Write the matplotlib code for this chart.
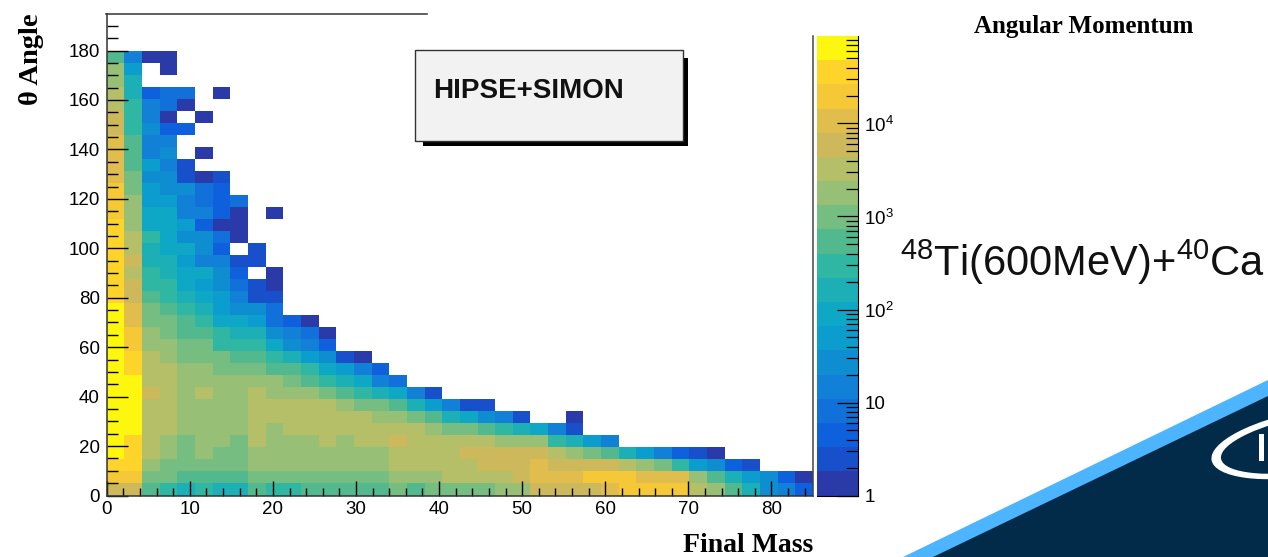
import numpy as np
import matplotlib
matplotlib.use('Agg')
import matplotlib.pyplot as plt
from matplotlib.colors import ListedColormap, LogNorm
from matplotlib.patches import Rectangle, Polygon, Ellipse
from matplotlib.ticker import LogLocator, MultipleLocator, NullFormatter

plt.rcParams['font.family'] = ['Liberation Sans', 'DejaVu Sans']
plt.rcParams['mathtext.default'] = 'regular'

W, H = 1268, 557

# colour band of each cell, 0 = empty
# first row is the lowest angle bin, each row starts at mass 0
band_rows = [
    [15, 15, 11, 10, 9, 10, 9, 9, 11, 10, 10, 11, 11, 11, 11, 11, 12, 11, 12, 12, 12, 12, 13, 13, 15, 15, 15, 15, 16, 17, 17, 17, 17, 14, 13, 11, 9, 6, 5, 3],
    [17, 17, 12, 12, 11, 11, 11, 11, 12, 12, 12, 12, 12, 12, 12, 12, 13, 13, 13, 14, 14, 14, 14, 15, 16, 16, 16, 17, 17, 17, 16, 16, 16, 13, 11, 9, 7, 6, 3, 1],
    [18, 18, 13, 12, 12, 12, 12, 12, 13, 13, 13, 13, 13, 13, 13, 13, 14, 14, 14, 14, 14, 15, 15, 15, 16, 15, 15, 15, 15, 14, 13, 12, 10, 7, 6, 3, 2],
    [19, 18, 14, 13, 12, 13, 12, 12, 13, 13, 13, 13, 13, 13, 13, 13, 14, 14, 14, 14, 15, 15, 15, 15, 15, 14, 13, 12, 11, 9, 7, 5, 3, 2, 1],
    [19, 18, 14, 13, 12, 13, 13, 12, 14, 13, 13, 13, 14, 13, 14, 14, 15, 14, 14, 14, 14, 14, 13, 13, 13, 10, 9, 7, 5],
    [19, 19, 14, 14, 13, 13, 13, 13, 14, 13, 14, 14, 14, 14, 14, 14, 14, 14, 13, 12, 12, 11, 10, 9, 8, 5, 2],
    [19, 19, 14, 14, 13, 13, 13, 13, 14, 14, 14, 14, 14, 14, 14, 13, 13, 12, 11, 9, 8, 6, 5, 2, 0, 0, 1],
    [19, 19, 14, 14, 13, 13, 13, 13, 14, 14, 14, 14, 14, 13, 12, 12, 11, 9, 7, 5, 2, 2],
    [19, 19, 15, 14, 13, 14, 13, 13, 14, 13, 13, 13, 12, 11, 10, 9, 8, 5, 2],
    [19, 19, 14, 14, 13, 13, 13, 13, 13, 13, 12, 11, 10, 9, 8, 5, 4],
    [19, 18, 14, 14, 13, 13, 12, 12, 12, 11, 11, 10, 8, 7, 5, 3],
    [19, 18, 14, 13, 12, 12, 12, 11, 11, 10, 9, 7, 6, 2, 1],
    [19, 17, 13, 13, 12, 12, 10, 10, 10, 8, 6, 5, 3],
    [19, 17, 13, 12, 11, 11, 10, 9, 9, 6, 5, 4, 1],
    [19, 16, 12, 12, 11, 10, 8, 8, 7, 4, 3, 1],
    [19, 16, 12, 11, 10, 9, 7, 6, 6, 4],
    [18, 15, 11, 10, 9, 8, 7, 5, 2, 2],
    [18, 15, 10, 10, 8, 7, 6, 4, 2, 1],
    [18, 14, 10, 9, 8, 8, 6, 3, 0, 1],
    [18, 15, 9, 9, 7, 5, 5, 2, 2],
    [18, 14, 9, 8, 8, 6, 3, 0, 2],
    [18, 14, 10, 8, 6, 6, 4, 1],
    [18, 13, 8, 8, 7, 3, 1, 1],
    [17, 13, 8, 8, 5, 5, 3, 1, 0, 1],
    [17, 13, 7, 7, 5, 4, 3, 4],
    [17, 12, 7, 6, 6, 4, 3],
    [16, 12, 6, 6, 2, 1, 2],
    [16, 11, 7, 5, 2],
    [16, 11, 5, 6, 0, 1],
    [16, 11, 5, 5],
    [15, 10, 6, 3, 3],
    [15, 10, 5, 1, 0, 1],
    [14, 10, 5, 4, 1],
    [14, 9, 3, 4, 4, 0, 1],
    [13, 9],
    [13, 7, 0, 1],
    [11, 5, 1, 1],
]

band_colors = ['#2a3aa8', '#1850cc', '#0f60dc', '#1270da', '#1280d6', '#0e8ed0',
               '#0a9dce', '#0ea8c6', '#1cb0b6', '#2fb7a4', '#52b98e', '#75bd80',
               '#97c076', '#b4bf68', '#cdb95c', '#e0bd4c', '#f5c838', '#fed42a',
               '#fdf60f']

x_ticks = [0, 10, 20, 30, 40, 50, 60, 70, 80]
y_ticks = [0, 20, 40, 60, 80, 100, 120, 140, 160, 180]
cbar_ticks = [1, 10, 100, 1000, 10000]
cbar_labels = ['1', '10', '$10^2$', '$10^3$', '$10^4$']

n_x = 40
n_y = len(band_rows)
x_edges = np.linspace(0, 85, n_x + 1)
y_edges = np.linspace(0, 180, n_y + 1)

bands = np.zeros((n_y, n_x))
for i, row in enumerate(band_rows):
    bands[i, :len(row)] = row

# bands are equal steps in log10(counts)
vmax = 10 ** (459.5 / 93)
step = np.log10(vmax) / len(band_colors)
counts = np.ma.masked_where(bands == 0, 10 ** ((bands - 0.5) * step))

fig = plt.figure(figsize=(W / 100, H / 100), dpi=100)


def box(x0, y0, x1, y1):
    return [x0 / W, 1 - y1 / H, (x1 - x0) / W, (y1 - y0) / H]


ax = fig.add_axes(box(106.7, 14, 813, 495.5))
cmap = ListedColormap(band_colors)
norm = LogNorm(vmin=1, vmax=vmax)
mesh = ax.pcolormesh(x_edges, y_edges, counts, cmap=cmap, norm=norm)

ax.set_xlim(0, 85)
ax.set_ylim(0, 481.5 / 2.472)
ax.set_xticks(x_ticks)
ax.set_yticks(y_ticks)
ax.xaxis.set_minor_locator(MultipleLocator(2))
ax.yaxis.set_minor_locator(MultipleLocator(5))
ax.tick_params(axis='x', which='major', direction='in', length=11, width=1, labelsize=13.5, pad=4)
ax.tick_params(axis='x', which='minor', direction='in', length=6, width=1)
ax.tick_params(axis='y', which='major', direction='in', length=15, width=1, labelsize=13.5, pad=5)
ax.tick_params(axis='y', which='minor', direction='in', length=8, width=1)
ax.spines['right'].set_visible(False)
ax.spines['top'].set_visible(False)
for side in ['left', 'bottom']:
    ax.spines[side].set_linewidth(1.1)
    ax.spines[side].set_color('#333333')

cax = fig.add_axes(box(816.5, 36, 857.5, 495.5))
cb = fig.colorbar(mesh, cax=cax)
cb.outline.set_visible(False)
cb.set_ticks(cbar_ticks, labels=cbar_labels)
cax.yaxis.set_minor_locator(LogLocator(base=10, subs=range(2, 10), numticks=12))
cax.yaxis.set_minor_formatter(NullFormatter())
cax.tick_params(which='major', direction='in', length=15, width=0.9, labelsize=13.5, pad=5)
cax.tick_params(which='minor', direction='in', length=8.5, width=0.9)
cax.spines['right'].set_visible(True)
cax.spines['bottom'].set_visible(True)

# everything around the plot is placed in pixels of the slide
over = fig.add_axes([0, 0, 1, 1], zorder=5)
over.set_xlim(0, W)
over.set_ylim(H, 0)
over.axis('off')

over.plot([106, 427], [14, 14], color='#333333', lw=1.1)
over.plot([813, 813], [36, 495.5], color='#444444', lw=1.1)

# legend box with its shadow
over.add_patch(Rectangle((423, 58), 265, 88, color='black', lw=0))
over.add_patch(Rectangle((415, 50), 268, 91, facecolor='#f2f2f2', edgecolor='#333333', lw=1))
over.text(433.5, 90.5, 'HIPSE+SIMON', fontsize=20, fontweight='bold', va='center', color='#111111')

serif = ['Liberation Serif', 'DejaVu Serif']
over.text(31, 59, 'θ Angle', family=serif, fontsize=20.5, fontweight='bold', rotation=90, ha='center', va='center')
over.text(813, 546, 'Final Mass', family=serif, fontsize=20, fontweight='bold', ha='right', va='center')

# the 10^5 label is cut by the pasted picture edge
over.text(868, 31, '$10^5$', fontsize=13.5, va='center', zorder=2)
over.add_patch(Rectangle((860, 0), 60, 36, color='white', lw=0, zorder=3))
over.text(1084, 27, 'Angular Momentum', family=serif, fontsize=18, fontweight='bold', ha='center', va='center')

over.text(900, 262, '$^{48}$Ti(600MeV)+$^{40}$Ca', fontsize=30, va='center', color='#111111')

# slide corner
over.add_patch(Polygon([(903, 557), (1268, 380), (1268, 557)], color='#4db4ff', lw=0))
over.add_patch(Polygon([(933, 557), (1268, 396), (1268, 557)], color='#022b4a', lw=0))
over.add_patch(Ellipse((1315, 442), 210, 66, angle=-10, color='white', lw=0))
over.add_patch(Ellipse((1322, 441), 205, 56, angle=-10, color='#022b4a', lw=0))
over.add_patch(Rectangle((1259, 434), 5, 27, color='white', lw=0))

fig.savefig('out.png', dpi=100)
plt.close(fig)
